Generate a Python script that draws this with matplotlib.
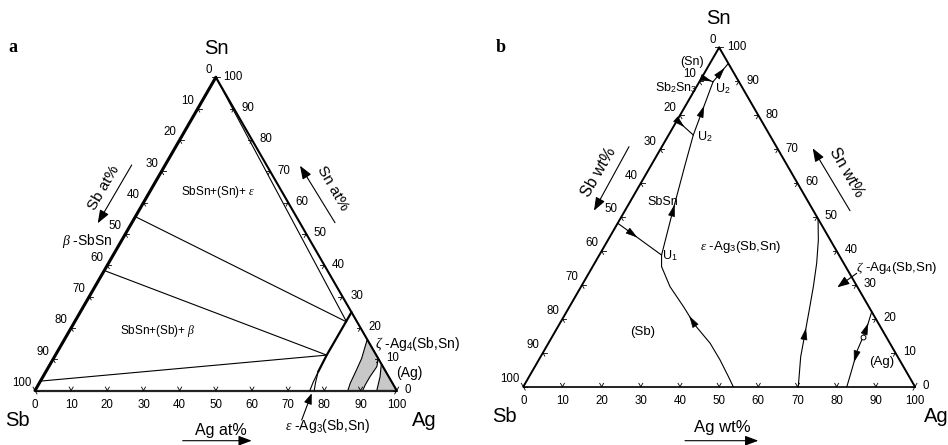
import numpy as np
import matplotlib.pyplot as plt
from matplotlib.patches import Polygon, FancyArrowPatch

plt.rcParams['font.family'] = ['Liberation Sans', 'DejaVu Sans']
plt.rcParams['mathtext.fontset'] = 'custom'
plt.rcParams['mathtext.rm'] = 'Liberation Sans'
plt.rcParams['mathtext.it'] = 'Liberation Serif:italic'

W, H = 948, 445
S3 = np.sqrt(3) / 2
ticks = np.arange(0, 101, 10)

# ---------- panel a : at%, points given as (Ag, Sn), Sb = 100 - Ag - Sn
a_tie_sn_left = [55.5, 38.3, 3.0]          # on the Sb-Sn side
a_tie_ag_right = [75.2, 75.0, 75.0]
a_tie_sn_right = [21.9, 11.3, 11.3]

a_sn_eps_ag = [0.0, 75.2]                  # (Sn) - eps side of 3-phase triangle
a_sn_eps_sn = [100.0, 21.9]

a_eps_ag = [75.0, 75.0, 75.3]              # eps boundary
a_eps_sn = [25.0, 11.3, 6.0]
a_eps1_ag = [75.3, 75.6, 76.0]
a_eps1_sn = [6.0, 2.5, 0.0]
a_eps2_ag = [75.3, 76.3, 77.2]
a_eps2_sn = [6.0, 2.5, 0.0]

a_zeta_ag = [83.7, 85.2, 85.7, 86.0, 86.5, 90.6, 90.4, 90.4, 90.7, 89.8]
a_zeta_sn = [16.3, 10.2, 5.5, 2.3, 0.0, 0.0, 1.75, 4.4, 7.6, 10.2]
a_agss_ag = [91.5, 93.2, 94.5, 100.0]
a_agss_sn = [8.5, 4.4, 0.0, 0.0]

# ---------- panel b : wt%, liquidus valleys (Ag, Sn)
b_c1_ag = [53.6, 50.9, 46.3, 41.3, 34.7, 29.1, 22.7, 17.6, 15.9]
b_c1_sn = [0.0, 2.95, 7.87, 12.8, 18.2, 23.6, 29.5, 35.4, 38.8]
b_c2_ag = [0.0, 15.9]
b_c2_sn = [48.2, 38.8]
b_c3_ag = [15.9, 12.6, 11.0, 8.6, 6.3]
b_c3_sn = [38.8, 50.6, 56.5, 65.4, 74.2]
b_c4_ag = [0.0, 6.3]
b_c4_sn = [78.5, 74.2]
b_c5_ag = [6.3, 3.5]
b_c5_sn = [74.2, 89.9]
b_c6_ag = [3.5, 4.7]
b_c6_sn = [89.9, 95.3]
b_c7_ag = [0.0, 3.5]
b_c7_sn = [91.1, 89.9]
b_c8_ag = [70.2, 66.4, 64.05, 61.7, 59.3, 56.7, 53.7, 50.5]
b_c8_sn = [0.0, 8.84, 15.74, 22.6, 29.5, 36.4, 43.25, 49.5]
b_c9_ag = [82.6, 81.4, 79.9, 79.4, 78.7, 77.9]
b_c9_sn = [0.0, 4.9, 10.8, 14.7, 18.7, 22.1]
b_pt_ag, b_pt_sn = 79.4, 14.7


def xy(ag, sn):
    ag = np.asarray(ag, float) / 100
    sn = np.asarray(sn, float) / 100
    return ag + sn / 2, sn * S3


fig = plt.figure(figsize=(W / 100, H / 100), dpi=100)


def make_ax(x0, y0, scale, left, right):
    ax = fig.add_axes([left / W, 0, (right - left) / W, 1])
    ax.set_xlim((left - x0) / scale, (right - x0) / scale)
    ax.set_ylim(-(H - y0) / scale, y0 / scale)
    ax.axis('off')
    return ax


def frame(ax, lws, tick_len):
    sb, ag, sn = xy(0, 0), xy(100, 0), xy(0, 100)
    ax.plot([sb[0], ag[0]], [sb[1], ag[1]], color='#222222', lw=lws[0], solid_capstyle='butt')
    ax.plot([sb[0], sn[0]], [sb[1], sn[1]], color='k', lw=lws[1], solid_capstyle='round')
    ax.plot([ag[0], sn[0]], [ag[1], sn[1]], color='k', lw=lws[2], solid_capstyle='round')
    for v in ticks:
        for (p, angs) in ((xy(v, 0), (60, 120)), (xy(0, 100 - v), (0, -60)),
                          (xy(100 - v, v), (180, 240))):
            for a in angs:
                t = np.radians(a)
                ax.plot([p[0], p[0] + tick_len * np.cos(t)], [p[1], p[1] + tick_len * np.sin(t)],
                        color='k', lw=0.6)
        ax.annotate(str(v), xy(v, 0), xytext=(0, -10.5), textcoords='offset points',
                    ha='center', va='center', fontsize=8.3)
        ax.annotate(str(v), xy(0, 100 - v), xytext=(-2.5, 5.5), textcoords='offset points',
                    ha='right', va='center', fontsize=8.3)
        ax.annotate(str(v), xy(100 - v, v), xytext=(5.5, 0.5), textcoords='offset points',
                    ha='left', va='center', fontsize=8.3)


def curve(ax, ag, sn, lw=0.8):
    x, y = xy(ag, sn)
    ax.plot(x, y, color='k', lw=lw, solid_capstyle='round')
    return x, y


def head(ax, x, y, f, step=0.025):
    d = np.r_[0, np.cumsum(np.hypot(np.diff(x), np.diff(y)))]
    s = f * d[-1]
    tip = (np.interp(s, d, x), np.interp(s, d, y))
    s0 = max(s - step, 0)
    tail = (np.interp(s0, d, x), np.interp(s0, d, y))
    ax.add_patch(FancyArrowPatch(tail, tip, arrowstyle='-|>,head_length=0.75,head_width=0.22',
                                 mutation_scale=10, color='k', lw=0.5,
                                 shrinkA=0, shrinkB=0))


def ftext(px, py, s, **kw):
    kw.setdefault('ha', 'center')
    kw.setdefault('va', 'center')
    fig.text(px / W, 1 - py / H, s, **kw)


def farrow(x0, y0, x1, y1, ms=10):
    fig.add_artist(FancyArrowPatch((x0 / W, 1 - y0 / H), (x1 / W, 1 - y1 / H),
                                   transform=fig.transFigure,
                                   arrowstyle='-|>,head_length=0.8,head_width=0.3',
                                   mutation_scale=ms, color='k', lw=0.8,
                                   shrinkA=0, shrinkB=0))


# ================= panel a
ax = make_ax(35, 390.5, 361.7, 0, 474)
frame(ax, (1.6, 2.2, 1.5), 0.011)

for sl, ar, sr in zip(a_tie_sn_left, a_tie_ag_right, a_tie_sn_right):
    curve(ax, [0, ar], [sl, sr], lw=0.8)
curve(ax, a_sn_eps_ag, a_sn_eps_sn, lw=0.8)
curve(ax, a_eps_ag, a_eps_sn, lw=1.6)
curve(ax, a_eps1_ag, a_eps1_sn, lw=0.8)
curve(ax, a_eps2_ag, a_eps2_sn, lw=0.8)
for pag, psn in ((a_zeta_ag, a_zeta_sn), (a_agss_ag, a_agss_sn)):
    px, py = xy(pag, psn)
    ax.add_patch(Polygon(np.c_[px, py], closed=True, facecolor='#c8c8c8',
                         edgecolor='k', lw=0.8))

ftext(13, 48, 'a', fontsize=13, fontweight='bold', family='Liberation Serif')
ftext(216, 49, 'Sn', fontsize=14.5)
ftext(17, 420, 'Sb', fontsize=14.5)
ftext(424, 421, 'Ag', fontsize=14.5)
ftext(104, 188, 'Sb at%', fontsize=11, rotation=60)
farrow(131.7, 165, 97.7, 223.3)
ftext(333, 188, 'Sn at%', fontsize=11, rotation=-60)
farrow(335, 222.7, 300, 165.7)
ftext(221, 430, 'Ag at%', fontsize=11.5)
farrow(182.7, 440.7, 251.7, 440.7)
ftext(87, 241, r'$\beta$ -SbSn', fontsize=10)
ftext(218, 192, r'SbSn+(Sn)+ $\varepsilon$', fontsize=8.5)
ftext(157.5, 331, r'SbSn+(Sb)+ $\beta$', fontsize=8.5)
ftext(418, 344, r'$\zeta$ -Ag$_4$(Sb,Sn)', fontsize=10)
ftext(409, 373, '(Ag)', fontsize=10)
ftext(327, 426, r'$\varepsilon$ -Ag$_3$(Sb,Sn)', fontsize=10)
farrow(301.7, 420, 311.7, 393.3, ms=8)

# ================= panel b
bx = make_ax(523.3, 386.7, 391.7, 474, 948)
frame(bx, (1.4, 1.4, 1.4), 0.010)

x, y = curve(bx, b_c1_ag, b_c1_sn)
head(bx, x, y, 0.55)
x, y = curve(bx, b_c2_ag, b_c2_sn)
head(bx, x, y, 0.45)
x, y = curve(bx, b_c3_ag, b_c3_sn)
head(bx, x, y, 0.42)
x, y = curve(bx, b_c4_ag, b_c4_sn)
head(bx, x, y, 0.45, step=0.02)
x, y = curve(bx, b_c5_ag, b_c5_sn)
head(bx, x, y, 0.55)
x, y = curve(bx, b_c6_ag, b_c6_sn)
head(bx, x, y, 0.75, step=0.02)
x, y = curve(bx, b_c7_ag, b_c7_sn)
head(bx, x, y, 0.9, step=0.012)
x, y = curve(bx, b_c8_ag, b_c8_sn)
head(bx, x, y, 0.35)
x, y = curve(bx, b_c9_ag, b_c9_sn)
head(bx, x[::-1], y[::-1], 0.68)
head(bx, x, y, 0.85)
px, py = xy(b_pt_ag, b_pt_sn)
bx.plot(px, py, 'o', ms=3.5, mfc='white', mec='k', mew=0.7)

ftext(500.7, 47.7, 'b', fontsize=13, fontweight='bold', family='Liberation Serif')
ftext(718, 18, 'Sn', fontsize=14.5)
ftext(504, 416, 'Sb', fontsize=14.5)
ftext(936, 417, 'Ag', fontsize=14.5)
ftext(599, 172, 'Sb wt%', fontsize=11.5, rotation=60)
farrow(629, 146.7, 594, 210.7)
ftext(847, 172, 'Sn wt%', fontsize=11.5, rotation=-60)
farrow(850, 210.7, 812.7, 148.3)
ftext(722, 427.5, 'Ag wt%', fontsize=12)
farrow(685, 440.7, 758.3, 440.7)
ftext(663, 201.7, 'SbSn', fontsize=9)
ftext(676, 87.3, r'Sb$_2$Sn$_3$', fontsize=9)
ftext(692, 61.7, '(Sn)', fontsize=9)
ftext(705, 137, r'U$_2$', fontsize=9)
ftext(723, 88.3, r'U$_2$', fontsize=9)
ftext(670, 256, r'U$_1$', fontsize=9)
ftext(741, 246.7, r'$\varepsilon$ -Ag$_3$(Sb,Sn)', fontsize=9.5)
ftext(897, 268.3, r'$\zeta$ -Ag$_4$(Sb,Sn)', fontsize=9.5)
farrow(856.7, 273.3, 837.3, 287.3, ms=9)
ftext(643, 331.7, '(Sb)', fontsize=9.5)
ftext(881.7, 361.7, '(Ag)', fontsize=9.5)

fig.savefig('out.png', dpi=100)
